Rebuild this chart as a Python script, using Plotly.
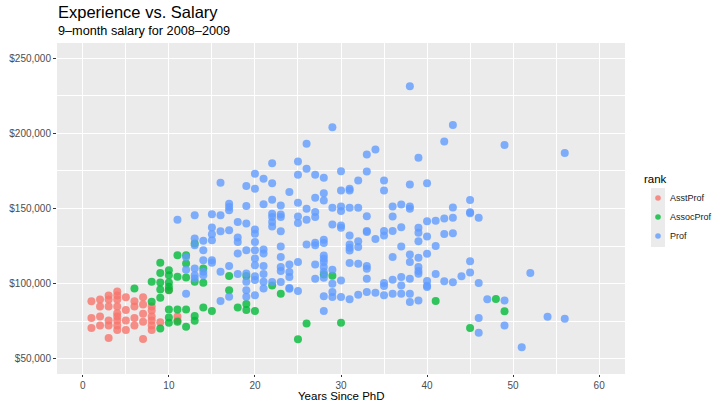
import plotly.graph_objects as go

# ---- data ----
asst_yrs = [1,1,1, 2,2,2,2, 3,3,3,3,3,3, 4,4,4,4,4,4,4,4,4, 5,5,5,5, 6,6,6,6,
            7,7,7,7,7, 8,8,8,8,8,8, 9, 10, 11,11]
asst_sal = [88400,77300,70600, 89500,84900,78200,72200,
            92200,89500,84900,75500,72200,64000,
            94800,92200,89500,84900,80400,78200,75500,72200,69300,
            91000,82600,75500,69300, 88400,84900,77300,72200,
            91000,86200,80000,74800,63300, 84900,82200,78200,75500,72200,69300,
            74400, 96000, 78200,75500]

assoc_yrs = [6, 8,8, 9,9,9,9,9,9, 10,10,10,10,10,10,10,10, 11,11,11,11,
             12,12,12,12,12, 13,13,13,13, 14,14,14, 15, 17,17, 18, 19,19,19,
             20, 22, 23, 25, 26, 28, 29, 30, 41, 45, 48, 49]
assoc_sal = [96900, 101300,88000, 113900,107200,100800,96200,90700,70300,
             109000,105700,100800,98000,95700,82900,77600,74100,
             119000,104600,82900,74800, 119000,113400,104100,82900,71400,
             126700,101300,78500,75400, 110100,100600,84200, 81800,
             105200,95700, 84200, 105200,86500,82500, 81800, 98900, 93400,
             63100, 73500, 106200, 105300, 74100, 88500, 70600, 89900, 81700]

prof_yrs = [11,
            12,12,12,
            13,13,13,13,13,13,
            14,14,14,14,14,
            15,15,15,15,15,15,
            16,16,16,16,16,
            17,17,17,17,17,17,
            18,18,18,18,18,
            19,19,19,19,19,19,19,19,
            20,20,20,20,20,20,20,20,20,20,20,
            21,21,21,21,21,21,21,21,
            22,22,22,22,22,22,22,22,
            23,23,23,23,23,23,23,23,23,
            24,24,24,24,24,24,
            25,25,25,25,25,25,25,
            26,26,26,26,26,
            27,27,27,27,27,27,27,27,
            28,28,28,28,28,28,28,28,28,28,28,28,28,
            29,29,29,29,29,29,29,
            30,30,30,30,30,30,30,30,
            31,31,31,31,31,31,31,31,31,
            32,32,32,32,32,32,
            33,33,33,33,33,33,33,33,33,
            34,34,34,
            35,35,35,35,35,35,35,
            36,36,36,36,36,36,
            37,37,37,37,37,37,
            38,38,38,38,38,38,38,38,38,
            39,39,39,39,39,39,39,39,39,
            40,40,40,40,40,40,40,
            41,41,41,
            42,42,42,42,
            43,43,43,43,43,
            44,
            45,45,45,45,45,
            46,46,46,46,
            47,
            49,49,49,
            51, 52, 54,
            56,56]
prof_sal = [142600,
            117700,109300,93300,
            145500,130000,125500,110100,105700,103500,
            128500,122300,115600,107900,105700,
            146200,137300,132900,128900,115600,113900,
            167100,145500,134900,107900,88500,
            153200,151000,148800,135600,111700,91300,
            141100,130700,127800,120100,106400,
            164900,151700,140000,122300,106800,101300,95700,91300,
            173100,163100,136000,133300,127800,122300,116700,112300,105000,102400,92400,
            169800,152800,122700,120100,111700,106400,101300,96900,
            180100,166800,155800,146500,144300,141000,138100,101100,
            152000,146000,144300,134800,124800,117700,111100,108400,101100,
            160900,112800,107800,104400,97100,96700,
            181200,172400,153800,144700,140300,114400,95100,
            193000,176400,149800,142500,126100,
            172400,157100,147600,144300,127200,125500,112800,103300,
            170400,160200,155300,129200,127000,118800,116600,114400,111100,107800,104000,91600,81900,
            204000,150500,139400,109300,100000,94500,91200,
            174800,162000,151400,148300,138700,137200,102200,91200,
            163100,162000,150500,132100,126100,123900,122100,113700,89600,
            168600,150500,128300,124400,113300,92700,
            185900,174600,144900,135000,134300,111700,110000,103300,94500,
            189200,129700,94000,
            168600,162000,135000,132100,100500,98500,92300,
            151400,144700,135000,117700,102700,93400,
            152700,137600,124800,104400,98900,93400,
            231200,166000,151400,149800,119500,114400,103300,93400,87800,
            183700,137200,133900,128300,117300,111100,108400,106600,88900,
            166800,141600,131400,119900,101800,98700,97800,
            141900,125100,106500,
            194600,143300,133100,101600,
            205500,150600,143900,133500,100900,
            104900,
            155700,147500,146800,114900,107400,
            143900,100500,77200,67500,
            89600,
            192200,88800,72200,
            57800, 107100, 78100,
            186900,76800]

ranks = ["AsstProf", "AssocProf", "Prof"]
rank_colors = ["#F8766D", "#00BA38", "#619CFF"]
x_ticks = [0, 10, 20, 30, 40, 50, 60]
y_ticks = [50000, 100000, 150000, 200000, 250000]

FONT = "Liberation Sans, Arial, sans-serif"

# panel geometry in pixels (for paper-coordinate placement of titles / legend)
W, H = 718, 403
L, R, T, B = 57, 93, 43, 29
PW, PH = W - L - R, H - T - B


def px(xp):
    return (xp - L) / PW


def py(yp):
    return (H - B - yp) / PH


fig = go.Figure()
for name, xs, ys, col in zip(ranks, [asst_yrs, assoc_yrs, prof_yrs],
                             [asst_sal, assoc_sal, prof_sal], rank_colors):
    fig.add_trace(go.Scatter(
        x=xs, y=ys, mode="markers", name=name, showlegend=False,
        marker=dict(color=col, size=8, opacity=0.8, line=dict(width=0)),
    ))

annotations = [
    dict(text="Experience vs. Salary", x=px(57), y=py(12), xanchor="left"),
    dict(text="9\u2013month salary for 2008\u20132009", x=px(57), y=py(31), xanchor="left"),
    dict(text="rank", x=px(643), y=py(179), xanchor="left"),
    dict(text="Years Since PhD", x=0.5, y=py(395.8), xanchor="center"),
]
fonts = [16.5, 12.7, 11.5, 11.5]
for a, fs in zip(annotations, fonts):
    a.update(xref="paper", yref="paper", yanchor="middle", borderpad=0,
             showarrow=False, font=dict(size=fs, color="black", family=FONT))

shapes = [dict(type="rect", xref="paper", yref="paper",
               x0=px(651), x1=px(665), y0=py(247), y1=py(188),
               fillcolor="#EBEBEB", line=dict(width=0), layer="below")]

key_y = [198, 217, 236]
for name, col, ky in zip(ranks, rank_colors, key_y):
    shapes.append(dict(type="circle", xref="paper", yref="paper",
                       x0=px(658 - 2.8), x1=px(658 + 2.8),
                       y0=py(ky + 2.8), y1=py(ky - 2.8),
                       fillcolor=col, opacity=0.8, line=dict(width=0)))
    annotations.append(dict(text=name, xref="paper", yref="paper",
                            x=px(668), y=py(ky), xanchor="left", yanchor="middle",
                            showarrow=False,
                            font=dict(size=9, color="#1A1A1A", family=FONT)))

fig.update_layout(
    width=W, height=H,
    margin=dict(l=L, r=R, t=T, b=B, autoexpand=False),
    paper_bgcolor="white", plot_bgcolor="#EBEBEB",
    font=dict(family=FONT, color="#4D4D4D", size=10),
    showlegend=False,
    annotations=annotations,
    shapes=shapes,
)
fig.update_xaxes(
    range=[-3, 63], tickvals=x_ticks, ticktext=[str(v) for v in x_ticks],
    showgrid=True, gridcolor="white", gridwidth=1.1, zeroline=False,
    ticks="outside", ticklen=2, tickcolor="#333333", tickwidth=1,
    tickfont=dict(size=10, color="#4D4D4D"),
    minor=dict(dtick=5, tick0=0, showgrid=True, gridcolor="white", gridwidth=0.5, ticks=""),
    showline=False, automargin=False,
)
fig.update_yaxes(
    range=[40000, 260000], tickvals=y_ticks,
    ticktext=["${:,}".format(v) for v in y_ticks],
    showgrid=True, gridcolor="white", gridwidth=1.1, zeroline=False,
    ticks="outside", ticklen=3, tickcolor="#333333", tickwidth=1,
    tickfont=dict(size=10, color="#4D4D4D"),
    minor=dict(dtick=25000, tick0=0, showgrid=True, gridcolor="white", gridwidth=0.5, ticks=""),
    showline=False, automargin=False,
)

fig.write_html("out.html",
               config={"displayModeBar": False},
               post_script="document.body.style.margin='0px';")
